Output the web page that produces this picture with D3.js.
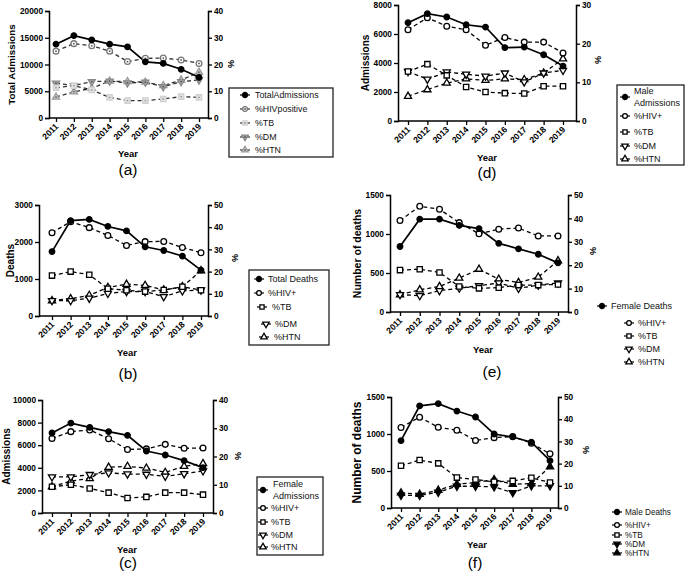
<!DOCTYPE html>
<html><head><meta charset="utf-8">
<script src="https://cdn.jsdelivr.net/npm/d3@7"></script>
<style>body{margin:0;background:#fff}svg{font-family:"Liberation Sans",Arial,sans-serif}</style>
</head><body><svg id="c" width="685" height="573"></svg>
<script>
const years = ["2011","2012","2013","2014","2015","2016","2017","2018","2019"];
const seriesNames = ["%HIV+","%TB","%DM","%HTN"];
// (a) total admissions
const aTotal = [13800,15400,14600,13800,13300,10500,10200,9100,7600];
const aHIV = [25.0,27.8,27.0,25.0,21.1,22.3,22.4,21.7,20.4];
const aTB = [11.3,12.1,10.5,7.7,6.5,6.5,7.1,8.0,7.7];
const aDM = [13.0,12.1,13.6,13.8,13.1,13.4,11.7,13.6,14.2];
const aHTN = [7.8,9.8,11.1,13.8,13.6,13.4,12.1,14.2,17.1];
// (b) total deaths
const bTotal = [1740,2580,2610,2420,2300,1870,1770,1620,1240];
const bHIV = [37.5,42.5,39.8,36.3,31.8,33.5,33.6,30.9,28.5];
const bTB = [18.2,20.0,18.6,12.3,11.6,11.0,11.7,13.2,11.6];
const bDM = [6.9,6.9,8.0,10.2,11.0,11.0,8.7,11.3,11.7];
const bHTN = [6.9,7.8,9.3,12.9,14.3,13.8,11.7,13.2,20.4];
// (c) female admissions
const cTotal = [7080,7960,7580,7200,6870,5490,5130,4630,4010];
const cHIV = [26.4,28.8,29.4,26.3,22.5,22.7,24.3,22.9,23.0];
const cTB = [9.3,10.0,8.7,7.2,5.3,5.7,7.2,7.2,6.5];
const cDM = [12.8,12.8,13.6,14.2,13.8,13.7,13.0,13.9,14.9];
const cHTN = [9.3,11.3,12.2,16.2,16.5,15.9,14.4,16.5,17.5];
// (d) male admissions
const dTotal = [6780,7400,7170,6640,6480,5060,5100,4570,3790];
const dHIV = [23.6,26.7,24.5,23.6,19.6,21.6,20.4,20.4,17.6];
const dTB = [12.8,14.7,11.8,8.8,7.5,7.2,7.1,9.0,9.0];
const dDM = [12.8,10.8,12.7,12.1,11.6,12.4,10.1,12.4,13.1];
const dHTN = [6.4,8.1,9.8,10.9,10.5,10.9,10.7,12.4,16.1];
// (e) female deaths
const eTotal = [840,1190,1190,1110,1070,880,810,740,630];
const eHIV = [39.1,45.2,43.9,38.2,33.4,35.4,35.9,32.5,32.5];
const eTB = [17.9,18.3,16.9,10.9,10.1,10.4,11.5,11.5,11.8];
const eDM = [7.4,7.0,9.1,10.2,11.2,12.4,10.1,11.5,12.4];
const eHTN = [7.4,9.5,10.9,14.5,18.3,14.0,12.6,14.9,21.9];
// (f) male deaths
const fTotal = [910,1380,1410,1310,1230,1000,960,890,640];
const fHIV = [36.3,40.9,36.4,35.0,30.4,31.7,32.2,29.2,24.4];
const fTB = [19.0,21.6,20.1,13.7,12.8,11.8,12.2,13.6,11.5];
const fDM = [5.7,5.7,7.1,9.8,9.8,9.5,6.9,10.0,10.0];
const fHTN = [6.8,6.2,8.0,10.7,11.5,12.8,10.7,11.0,18.6];

const svg = d3.select("#c");

function marker(g, kind, x, y, st) {
  const types = {circle:d3.symbolCircle, square:d3.symbolSquare, up:d3.symbolTriangle, down:d3.symbolTriangle};
  const sizes = {circle:26, square:28, up:22, down:22};
  g.append("path")
    .attr("d", d3.symbol().type(types[kind]).size(st.size || sizes[kind])())
    .attr("transform", `translate(${x},${y})` + (kind === "down" ? " rotate(180)" : ""))
    .attr("fill", st.fill).attr("stroke", st.stroke).attr("stroke-width", st.sw || 1.3);
  if (st.dot) g.append("circle").attr("cx", x).attr("cy", y).attr("r", 0.9).attr("fill", st.dot);
}

function panel(cfg) {
  const g = svg.append("g");
  const x = d3.scalePoint().domain(years).range([cfg.first, cfg.last]);
  const yl = d3.scaleLinear().domain([0, cfg.leftMax]).range([cfg.bottom, cfg.top]);
  const yr = d3.scaleLinear().domain([0, cfg.rightMax]).range([cfg.bottom, cfg.top]);
  const axCol = "#000";
  const la = g.append("g").attr("transform", `translate(${cfg.x0},0)`)
    .call(d3.axisLeft(yl).tickValues(cfg.leftTicks).tickSize(4).tickPadding(2).tickFormat(d3.format("d")));
  const ra = g.append("g").attr("transform", `translate(${cfg.x1},0)`)
    .call(d3.axisRight(yr).tickValues(cfg.rightTicks).tickSize(4).tickPadding(2).tickFormat(d3.format("d")));
  const xa = g.append("g").attr("transform", `translate(0,${cfg.bottom})`)
    .call(d3.axisBottom(x).tickSize(4).tickSizeOuter(0).tickFormat(""));
  xa.select(".domain").attr("d", `M${cfg.x0},0H${cfg.x1}`);
  [la, ra, xa].forEach(a => {
    a.select(".domain").attr("stroke", axCol).attr("stroke-width", 1.5);
    a.selectAll(".tick line").attr("stroke", axCol).attr("stroke-width", 1.3);
    a.selectAll("text").attr("font-size", 8.3).attr("font-weight", "bold").attr("fill", "#000")
      .attr("font-family", "Liberation Sans, Arial, sans-serif");
  });
  years.forEach(yv => {
    g.append("text").attr("text-anchor", "end")
      .attr("transform", `translate(${x(yv) + 3},${cfg.bottom + 9}) rotate(-45)`)
      .attr("font-size", 8.6).attr("font-weight", "bold").text(yv);
  });
  g.append("text").attr("transform", `translate(${cfg.yTitleX},${(cfg.top + cfg.bottom) / 2}) rotate(-90)`)
    .attr("text-anchor", "middle").attr("dy", "0.35em").attr("font-weight", "bold")
    .attr("font-size", cfg.yTitleSize).text(cfg.yTitle);
  g.append("text").attr("transform", `translate(${cfg.pctX},${cfg.pctY}) rotate(90)`)
    .attr("text-anchor", "middle").attr("dy", "0.35em").attr("font-weight", "bold")
    .attr("font-size", 9).text("%");
  g.append("text").attr("x", cfg.yearX).attr("y", cfg.yearY).attr("text-anchor", "middle")
    .attr("font-weight", "bold").attr("font-size", 9.5).text("Year");
  g.append("text").attr("x", cfg.labelX).attr("y", cfg.labelY).attr("text-anchor", "middle")
    .attr("font-size", 15.5).text(cfg.label);

  const line = (sc) => d3.line().x((d, i) => x(years[i])).y(d => sc(d));
  cfg.series.forEach(s => {
    g.append("path").datum(s.values).attr("d", line(yr)).attr("fill", "none")
      .attr("stroke", cfg.dashCol).attr("stroke-width", 1.3).attr("stroke-dasharray", "4,3");
  });
  g.append("path").datum(cfg.main).attr("d", line(yl)).attr("fill", "none")
    .attr("stroke", "#000").attr("stroke-width", 1.7);
  cfg.series.slice().reverse().forEach(s => {
    s.values.forEach((v, i) => marker(g, s.kind, x(years[i]), yr(v), s.style));
  });
  cfg.main.forEach((v, i) => marker(g, "circle", x(years[i]), yl(v), {fill:"#000", stroke:"#000", size:24}));

  const L = cfg.legend;
  if (L.box) g.append("rect").attr("x", L.box[0]).attr("y", L.box[1]).attr("width", L.box[2]).attr("height", L.box[3])
    .attr("fill", "#fff").attr("stroke", "#222").attr("stroke-width", 1.3);
  const items = [{name: cfg.mainName, kind: "circle", style: {fill:"#000", stroke:"#000", size:20}}]
    .concat(cfg.series.map(s => ({name: s.legendName, kind: s.kind, style: Object.assign({}, s.style, {size: 18})})));
  items.forEach((it, i) => {
    const it0 = L.items[i];
    const mx = it0[0], my = it0[1];
    g.append("line").attr("x1", mx - 5).attr("x2", mx + 5).attr("y1", my).attr("y2", my)
      .attr("stroke", i === 0 ? "#000" : cfg.dashCol).attr("stroke-width", 1.2);
    marker(g, it.kind, mx, my, it.style);
    const lines = Array.isArray(it.name) ? it.name : [it.name];
    lines.forEach((t, k) => {
      g.append("text").attr("x", it0[2]).attr("y", my + (k - (lines.length - 1) / 2) * 11.5)
        .attr("dy", "0.35em").attr("font-size", L.fs).attr("fill", "#111").text(t);
    });
  });
}

const openStyle = {fill:"#fff", stroke:"#000"};
function blackSeries(hiv, tb, dm, htn, filledTri) {
  return [
    {values: hiv, kind:"circle", legendName:"%HIV+", style: openStyle},
    {values: tb, kind:"square", legendName:"%TB", style: openStyle},
    {values: dm, kind:"down", legendName:"%DM", style: filledTri ? {fill:"#000", stroke:"#000"} : openStyle},
    {values: htn, kind:"up", legendName:"%HTN", style: filledTri ? {fill:"#000", stroke:"#000"} : openStyle}
  ];
}

panel({x0:49, x1:208, top:11, bottom:118, first:56, last:199,
  leftMax:20000, leftTicks:[0,5000,10000,15000,20000], rightMax:40, rightTicks:[0,10,20,30,40],
  yTitle:"Total Admissions", yTitleX:12, yTitleSize:9.8, pctX:231, pctY:64,
  yearX:128, yearY:157, label:"(a)", labelX:128, labelY:175, dashCol:"#333",
  main:aTotal, mainName:"TotalAdmissions",
  series:[
    {values:aHIV, kind:"circle", legendName:"%HIVpositive", style:{fill:"#fff", stroke:"#777", dot:"#555"}},
    {values:aTB, kind:"square", legendName:"%TB", style:{fill:"#e4e4e4", stroke:"#d0d0d0", dot:"#999"}},
    {values:aDM, kind:"down", legendName:"%DM", style:{fill:"#aaa", stroke:"#888", dot:"#555"}},
    {values:aHTN, kind:"up", legendName:"%HTN", style:{fill:"#ccc", stroke:"#999", dot:"#666"}}
  ],
  legend:{box:[229,88,104,69], fs:8.8, items:[[245,95,255],[245,109,255],[245,123,255],[245,137,255],[245,150,255]]}
});
panel({x0:39, x1:208, top:205, bottom:316, first:52, last:201,
  leftMax:3000, leftTicks:[0,1000,2000,3000], rightMax:50, rightTicks:[0,10,20,30,40,50],
  yTitle:"Deaths", yTitleX:10, yTitleSize:10, pctX:235, pctY:258,
  yearX:127, yearY:356, label:"(b)", labelX:128, labelY:379, dashCol:"#000",
  main:bTotal, mainName:"Total Deaths",
  series: blackSeries(bHIV, bTB, bDM, bHTN, false),
  legend:{box:[249,270,80,75], fs:9, items:[[259,279,268],[259,293,268],[262,307,272],[266,324,275],[264,337,274]]}
});
panel({x0:42, x1:213, top:400, bottom:513, first:52, last:203,
  leftMax:10000, leftTicks:[0,2000,4000,6000,8000,10000], rightMax:40, rightTicks:[0,10,20,30,40],
  yTitle:"Admissions", yTitleX:6, yTitleSize:10, pctX:238, pctY:456,
  yearX:127, yearY:553, label:"(c)", labelX:128, labelY:568, dashCol:"#000",
  main:cTotal, mainName:["Female","Admissions"],
  series: blackSeries(cHIV, cTB, cDM, cHTN, false),
  legend:{box:[257,477,66,78], fs:9, items:[[263,490,273],[263,508,271],[263,522,271],[263,535,271],[263,547,271]]}
});
panel({x0:398, x1:576, top:5, bottom:121, first:408, last:563,
  leftMax:8000, leftTicks:[0,2000,4000,6000,8000], rightMax:30, rightTicks:[0,10,20,30],
  yTitle:"Admissions", yTitleX:365, yTitleSize:10, pctX:598, pctY:60,
  yearX:487, yearY:161, label:"(d)", labelX:487, labelY:178, dashCol:"#000",
  main:dTotal, mainName:["Male","Admissions"],
  series: blackSeries(dHIV, dTB, dDM, dHTN, false),
  legend:{box:[617,85,67,80], fs:9, items:[[625,97,634],[625,116,634],[625,132,634],[625,146,634],[625,159,634]]}
});
panel({x0:390, x1:568, top:195, bottom:312, first:400, last:558,
  leftMax:1500, leftTicks:[0,500,1000,1500], rightMax:50, rightTicks:[0,10,20,30,40,50],
  yTitle:"Number of deaths", yTitleX:357, yTitleSize:10.5, pctX:593, pctY:251,
  yearX:483, yearY:353, label:"(e)", labelX:492, labelY:377, dashCol:"#000",
  main:eTotal, mainName:"Female Deaths",
  series: blackSeries(eHIV, eTB, eDM, eHTN, false),
  legend:{box:null, fs:9, items:[[602,306,611],[629,323,638],[629,336,638],[629,349,638],[629,362,638]]}
});
panel({x0:391, x1:558, top:397, bottom:508, first:401, last:550,
  leftMax:1500, leftTicks:[0,500,1000,1500], rightMax:50, rightTicks:[0,10,20,30,40,50],
  yTitle:"Number of deaths", yTitleX:357, yTitleSize:12, pctX:586, pctY:450,
  yearX:477, yearY:548, label:"(f)", labelX:475, labelY:568, dashCol:"#000",
  main:fTotal, mainName:"Male Deaths",
  series: blackSeries(fHIV, fTB, fDM, fHTN, true),
  legend:{box:null, fs:8.2, items:[[617,512,625],[617,525,625],[617,535,625],[617,544,625],[617,553,625]]}
});
</script>
</body></html>
